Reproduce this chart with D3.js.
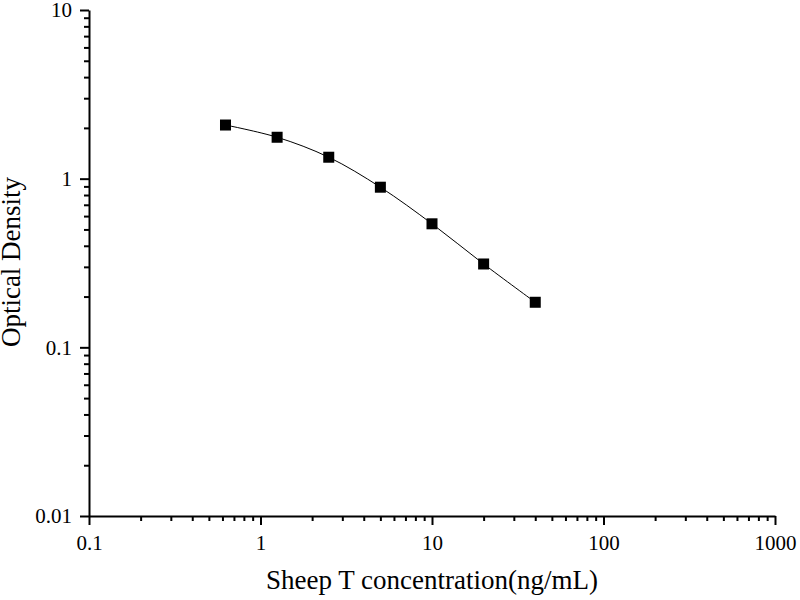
<!DOCTYPE html>
<html>
<head>
<meta charset="utf-8">
<script src="https://cdn.jsdelivr.net/npm/d3@7"></script>
<style>
  body { margin: 0; background: #fff; overflow: hidden; }
  svg { display: block; font-family: "Liberation Serif", "Times New Roman", serif; }
</style>
</head>
<body>
<div id="chart"></div>
<script>
// Standard curve data
const concentrations = [0.625, 1.25, 2.5, 5, 10, 20, 40];
const densities = [2.08, 1.76, 1.34, 0.89, 0.54, 0.312, 0.185];
const xTicks = [0.1, 1, 10, 100, 1000];
const yTicks = [0.01, 0.1, 1, 10];

const width = 800, height = 600;
const margin = { top: 10, right: 25, bottom: 84, left: 89 };
const innerWidth = width - margin.left - margin.right;
const innerHeight = height - margin.top - margin.bottom;

const svg = d3.select("#chart")
  .append("svg")
    .attr("width", width)
    .attr("height", height);

const innerChart = svg.append("g")
  .attr("transform", `translate(${margin.left}, ${margin.top})`);

// Scales
const xScale = d3.scaleLog()
  .domain([0.1, 1000])
  .range([0, innerWidth]);

const yScale = d3.scaleLog()
  .domain([0.01, 10])
  .range([innerHeight, 0]);

// minor ticks (2..9 of each decade)
const minorOf = (ticks) => {
  const out = [];
  for (let i = 0; i < ticks.length - 1; i++) {
    for (let k = 2; k <= 9; k++) out.push(ticks[i] * k);
  }
  return out;
};

// Bottom axis
const xMinor = innerChart.append("g")
  .attr("transform", `translate(0, ${innerHeight})`)
  .call(d3.axisBottom(xScale).tickValues(minorOf(xTicks)).tickSize(5).tickFormat(""));
const xMajor = innerChart.append("g")
  .attr("transform", `translate(0, ${innerHeight})`)
  .call(d3.axisBottom(xScale).tickValues(xTicks).tickSize(9).tickSizeOuter(0).tickPadding(10)
    .tickFormat(d => String(d)));

// Left axis
const yMinor = innerChart.append("g")
  .call(d3.axisLeft(yScale).tickValues(minorOf(yTicks)).tickSize(5).tickFormat(""));
const yMajor = innerChart.append("g")
  .call(d3.axisLeft(yScale).tickValues(yTicks).tickSize(9).tickSizeOuter(0).tickPadding(8)
    .tickFormat(d => String(d)));

// minor ticks carry no labels
xMinor.selectAll(".tick text").remove();
yMinor.selectAll(".tick text").remove();

[xMinor, xMajor, yMinor, yMajor].forEach(g => {
  g.attr("font-family", null).attr("font-size", null);
  g.select(".domain").attr("stroke", "#000").attr("stroke-width", 2);
  g.selectAll(".tick line").attr("stroke", "#000").attr("stroke-width", 2);
  g.selectAll(".tick text")
    .attr("fill", "#000")
    .style("font-size", "21px");
});
xMinor.select(".domain").remove();
yMinor.select(".domain").remove();

// Curve
const line = d3.line()
  .x((d, i) => xScale(concentrations[i]))
  .y(d => yScale(d))
  .curve(d3.curveCatmullRom);

innerChart.append("path")
  .attr("d", line(densities))
  .attr("fill", "none")
  .attr("stroke", "#000")
  .attr("stroke-width", 1);

// Markers
const s = 11;
innerChart.selectAll(".point")
  .data(densities)
  .join("rect")
    .attr("class", "point")
    .attr("x", (d, i) => xScale(concentrations[i]) - s / 2)
    .attr("y", d => yScale(d) - s / 2)
    .attr("width", s)
    .attr("height", s)
    .attr("fill", "#000");

// Axis titles
svg.append("text")
  .attr("x", 432)
  .attr("y", 589)
  .attr("text-anchor", "middle")
  .style("font-size", "27px")
  .text("Sheep T concentration(ng/mL)");

svg.append("text")
  .attr("transform", `translate(20, 262) rotate(-90)`)
  .attr("text-anchor", "middle")
  .style("font-size", "27px")
  .text("Optical Density");
</script>
</body>
</html>
